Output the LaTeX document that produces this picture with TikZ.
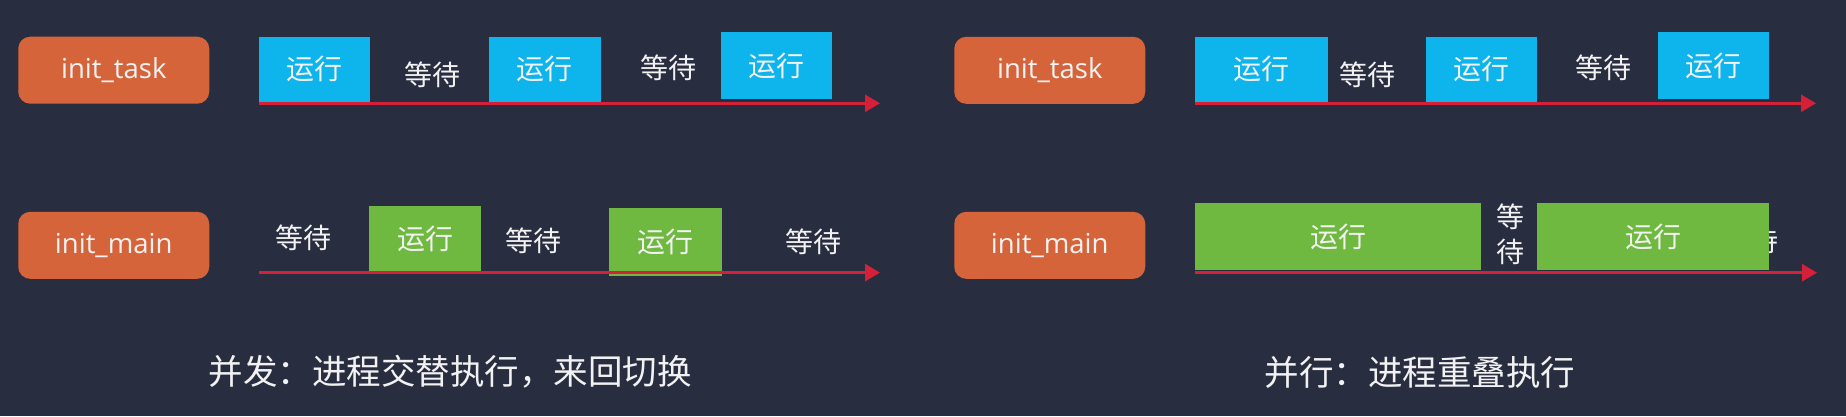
\documentclass[tikz,border=0pt]{standalone}
\usepackage{fontspec}
\setmainfont{Open Sans}
\newfontfamily\cjk{Noto Sans CJK SC}
\usetikzlibrary{arrows.meta}
\definecolor{bgc}{HTML}{292D40}
\definecolor{orangec}{HTML}{D6643B}
\definecolor{bluec}{HTML}{0EB4EC}
\definecolor{greenc}{HTML}{70B941}
\definecolor{redc}{HTML}{D42039}
\definecolor{txtc}{HTML}{F2F2F2}
\tikzset{
  procbox/.style={fill=orangec, rounded corners=12pt, inner sep=0pt, minimum width=191pt, minimum height=67pt, text=txtc, font=\fontsize{27.5}{32}\selectfont},
  runblue/.style={fill=bluec, inner sep=0pt, text=txtc, font=\cjk\fontsize{28}{32}\selectfont},
  rungreen/.style={fill=greenc, inner sep=0pt, text=txtc, font=\cjk\fontsize{28}{32}\selectfont},
  waitlbl/.style={inner sep=0pt, text=txtc, font=\cjk\fontsize{28}{32}\selectfont},
  titlelbl/.style={inner sep=0pt, text=txtc, font=\cjk\fontsize{34.5}{40}\selectfont},
  timeline/.style={draw=redc, line width=2.5pt, -{Triangle[length=15pt,width=17pt]}}
}
\begin{document}
\begin{tikzpicture}[x=1pt,y=-1pt]
\fill[bgc] (0,0) rectangle (1846,416);
\useasboundingbox (0,0) rectangle (1846,416);

% ---------- left: concurrency ----------
\node[procbox] (taskL) at (113.75,70.2) {init\_task};
\node[procbox] (mainL) at (113.75,245.3) {init\_main};

\node[runblue, minimum width=111.5pt, minimum height=65pt] (bL1) at (314.25,69.2) {运行};
\node[waitlbl] (wL1) at (432.7,75) {等待};
\node[runblue, minimum width=111.5pt, minimum height=65pt] (bL2) at (544.75,69.2) {运行};
\node[waitlbl] (wL2) at (668,68) {等待};
\node[runblue, minimum width=111pt, minimum height=67pt] (bL3) at (776.5,65.5) {运行};

\coordinate (tLs) at (259,103.3);
\coordinate (tLe) at (880,103.3);
\draw[timeline] (tLs) -- (tLe);

\node[waitlbl] (wL3) at (303,238) {等待};
\node[rungreen, minimum width=112pt, minimum height=65.3pt] (gL1) at (425,238.4) {运行};
\node[waitlbl] (wL4) at (533,241) {等待};
\node[rungreen, minimum width=112.5pt, minimum height=68pt] (gL2) at (665.25,242) {运行};
\node[waitlbl] (wL5) at (813,241.5) {等待};

\coordinate (mLs) at (259,272.6);
\coordinate (mLe) at (880,272.6);
\draw[timeline] (mLs) -- (mLe);

\node[titlelbl] (titleL) at (450,372) {并发：进程交替执行，来回切换};

% ---------- right: parallelism ----------
\node[procbox] (taskR) at (1049.75,70.3) {init\_task};
\node[procbox] (mainR) at (1049.75,245.3) {init\_main};

\node[runblue, minimum width=133pt, minimum height=65pt] (bR1) at (1261.5,69.2) {运行};
\node[waitlbl] (wR1) at (1367.5,75) {等待};
\node[runblue, minimum width=111.5pt, minimum height=65pt] (bR2) at (1481.25,69.2) {运行};
\node[waitlbl] (wR2) at (1603,68) {等待};
\node[runblue, minimum width=111pt, minimum height=67pt] (bR3) at (1713.1,65.5) {运行};

\coordinate (tRs) at (1195,103.3);
\coordinate (tRe) at (1816,103.3);
\draw[timeline] (tRs) -- (tRe);

\node[rungreen, minimum width=286pt, minimum height=66.7pt] (gR1) at (1338,236.7) {运行};
\node[waitlbl] (wR3a) at (1510,217) {等};
\node[waitlbl] (wR3b) at (1510,252) {待};
\node[waitlbl] (wR4) at (1750,241) {等待};
\node[rungreen, minimum width=232pt, minimum height=66.7pt] (gR2) at (1653,236.7) {运行};

\coordinate (mRs) at (1195,272.7);
\coordinate (mRe) at (1817,272.7);
\draw[timeline] (mRs) -- (mRe);

\node[titlelbl] (titleR) at (1420,372) {并行：进程重叠执行};
\end{tikzpicture}
\end{document}
